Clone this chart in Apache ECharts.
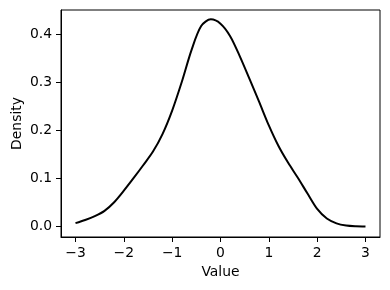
<!DOCTYPE html>
<html>
<head>
<meta charset="utf-8">
<script src="https://cdn.jsdelivr.net/npm/echarts@6/dist/echarts.min.js"></script>
<style>html,body{margin:0;padding:0;background:#fff}#c{width:390px;height:290px}</style>
</head>
<body>
<div id="c"></div>
<script>
const xValues = [-3.0, -2.8, -2.6, -2.4, -2.2, -2.0, -1.8, -1.6, -1.4, -1.2, -1.0, -0.8, -0.6, -0.4, -0.2, 0.0, 0.2, 0.4, 0.6, 0.8, 1.0, 1.2, 1.4, 1.6, 1.8, 2.0, 2.2, 2.4, 2.6, 2.8, 3.0];
const density = [0.0075, 0.014, 0.022, 0.033, 0.051, 0.075, 0.101, 0.128, 0.156, 0.193, 0.242, 0.302, 0.368, 0.418, 0.432, 0.423, 0.397, 0.355, 0.308, 0.260, 0.211, 0.168, 0.133, 0.102, 0.069, 0.037, 0.017, 0.007, 0.0025, 0.001, 0.0006];
const xTicks = [-3, -2, -1, 0, 1, 2, 3];
const yTicks = [0, 0.1, 0.2, 0.3, 0.4];

const font = 'DejaVu Sans';
const fs = 13.9;
const chart = echarts.init(document.getElementById('c'), null, {renderer: 'canvas'});
chart.setOption({
  animation: false,
  grid: {left: 61, right: 10, top: 10, bottom: 53, outerBoundsMode: 'none', containLabel: false, show: true, borderColor: '#000', borderWidth: 1, backgroundColor: 'transparent'},
  xAxis: {
    type: 'value', min: -3.3, max: 3.3,
    name: 'Value', nameLocation: 'middle', nameGap: 28, nameMoveOverlap: false,
    nameTextStyle: {fontFamily: font, fontSize: fs, color: '#000'},
    axisLine: {show: true, onZero: false, lineStyle: {color: '#000', width: 1}},
    axisTick: {show: true, length: 5, customValues: xTicks, lineStyle: {color: '#000'}},
    axisLabel: {customValues: xTicks, margin: 9, fontFamily: font, fontSize: fs, color: '#000',
      formatter: v => String(v).replace('-', '\u2212')},
    splitLine: {show: false}
  },
  yAxis: {
    type: 'value', min: -0.0215, max: 0.4515,
    name: 'Density', nameLocation: 'middle', nameGap: 37, nameRotate: 90, nameMoveOverlap: false,
    nameTextStyle: {fontFamily: font, fontSize: fs, color: '#000'},
    axisLine: {show: true, onZero: false, lineStyle: {color: '#000', width: 1}},
    axisTick: {show: true, length: 5, customValues: yTicks, lineStyle: {color: '#000'}},
    axisLabel: {customValues: yTicks, margin: 9, fontFamily: font, fontSize: fs, color: '#000',
      formatter: v => v.toFixed(1)},
    splitLine: {show: false}
  },
  series: [{
    type: 'line',
    data: xValues.map((x, i) => [x, density[i]]),
    smooth: 0.3,
    showSymbol: false,
    lineStyle: {color: '#000', width: 2}
  }]
});
</script>
</body>
</html>
